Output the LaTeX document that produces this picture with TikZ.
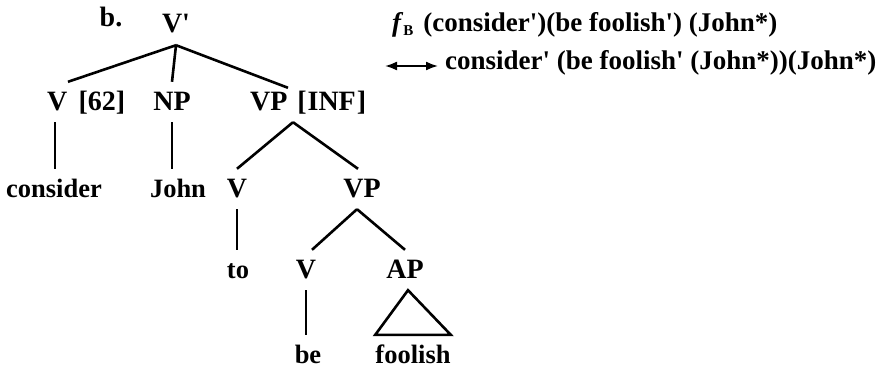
\documentclass[tikz,border=0pt]{standalone}
\usepackage{fontspec}
\setmainfont{Liberation Serif}
\usetikzlibrary{arrows.meta}
\begin{document}
\begin{tikzpicture}[x=1pt,y=-1pt,
  lbl/.style={inner xsep=0pt, inner ysep=10pt, text height=18pt, text depth=2pt,
              font=\fontsize{28}{30}\selectfont\bfseries, anchor=base},
  wrd/.style={lbl, font=\fontsize{26.5}{30}\selectfont\bfseries},
  txt/.style={inner sep=0pt, anchor=base west, font=\fontsize{27}{30}\selectfont\bfseries},
  branch/.style={line width=2.6pt},
  dblarrow/.style={{Latex[length=12pt,width=9pt]}-{Latex[length=12pt,width=9pt]}, line width=1.8pt}
  ]
\useasboundingbox (0,0) rectangle (877,369);

% labels
\node[txt, anchor=base, font=\fontsize{28}{30}\selectfont\bfseries] (b) at (111,27) {b.};
\node[lbl] (vbar) at (176,33) {V\textquotesingle};
\node[lbl, anchor=base west] (v62) at (47,110) {V\hspace{0.4em}[62]};
\node[lbl] (np) at (172,110) {NP};
\node[lbl, anchor=base west] (vpinf) at (250,110) {VP\hspace{0.35em}[\kern1pt INF\kern1pt]};
\node[wrd] (consider) at (54,197) {consider};
\node[wrd] (john) at (178,197) {John};
\node[lbl] (v1) at (237,197) {V};
\node[lbl] (vp) at (362,197) {VP};
\node[wrd] (to) at (238,278) {to};
\node[lbl] (v2) at (306,278) {V};
\node[lbl] (ap) at (405,278) {AP};
\node[wrd] (be) at (308,363) {be};
\node[wrd] (foolish) at (413,363) {foolish};

% branches
\draw[branch] (vbar.south) -- ([xshift=21pt]v62.north west);
\draw[branch] (vbar.south) -- (np.north);
\draw[branch] (vbar.south) -- ([xshift=38pt,yshift=-6pt]vpinf.north west);
\coordinate (v62foot) at ([xshift=8pt]v62.south west);
\draw[branch] (v62foot) -- (v62foot |- consider.north);
\draw[branch] (np.south) -- (np.south |- john.north);
\coordinate (vpinfapex) at ([xshift=43pt]vpinf.south west);
\draw[branch] (vpinfapex) -- (v1.north);
\draw[branch] (vpinfapex) -- ([xshift=-4pt]vp.north);
\draw[branch] (v1.south) -- (v1.south |- to.north);
\coordinate (vpapex) at ([xshift=-5pt]vp.south);
\draw[branch] (vpapex) -- ([xshift=6pt]v2.north);
\draw[branch] (vpapex) -- (ap.north);
\draw[branch] (v2.south) -- (v2.south |- be.north);
\draw[branch, line join=miter] ([xshift=3pt]ap.south) -- (foolish.north west) -- (foolish.north east) -- cycle;

% formulas
\node[txt] (l1) at (392,32) {\textit{f}\raisebox{-4pt}{\fontsize{15}{16}\selectfont B}\hspace{10pt}(consider\textquotesingle)(be foolish\textquotesingle) (John*)};
\coordinate (al) at (385,66);
\coordinate (ar) at (438,66);
\draw[dblarrow] (al) -- (ar);
\node[txt] (l2) at (445,70) {consider\textquotesingle\ (be foolish\textquotesingle\ (John*))(John*)};
\end{tikzpicture}
\end{document}
